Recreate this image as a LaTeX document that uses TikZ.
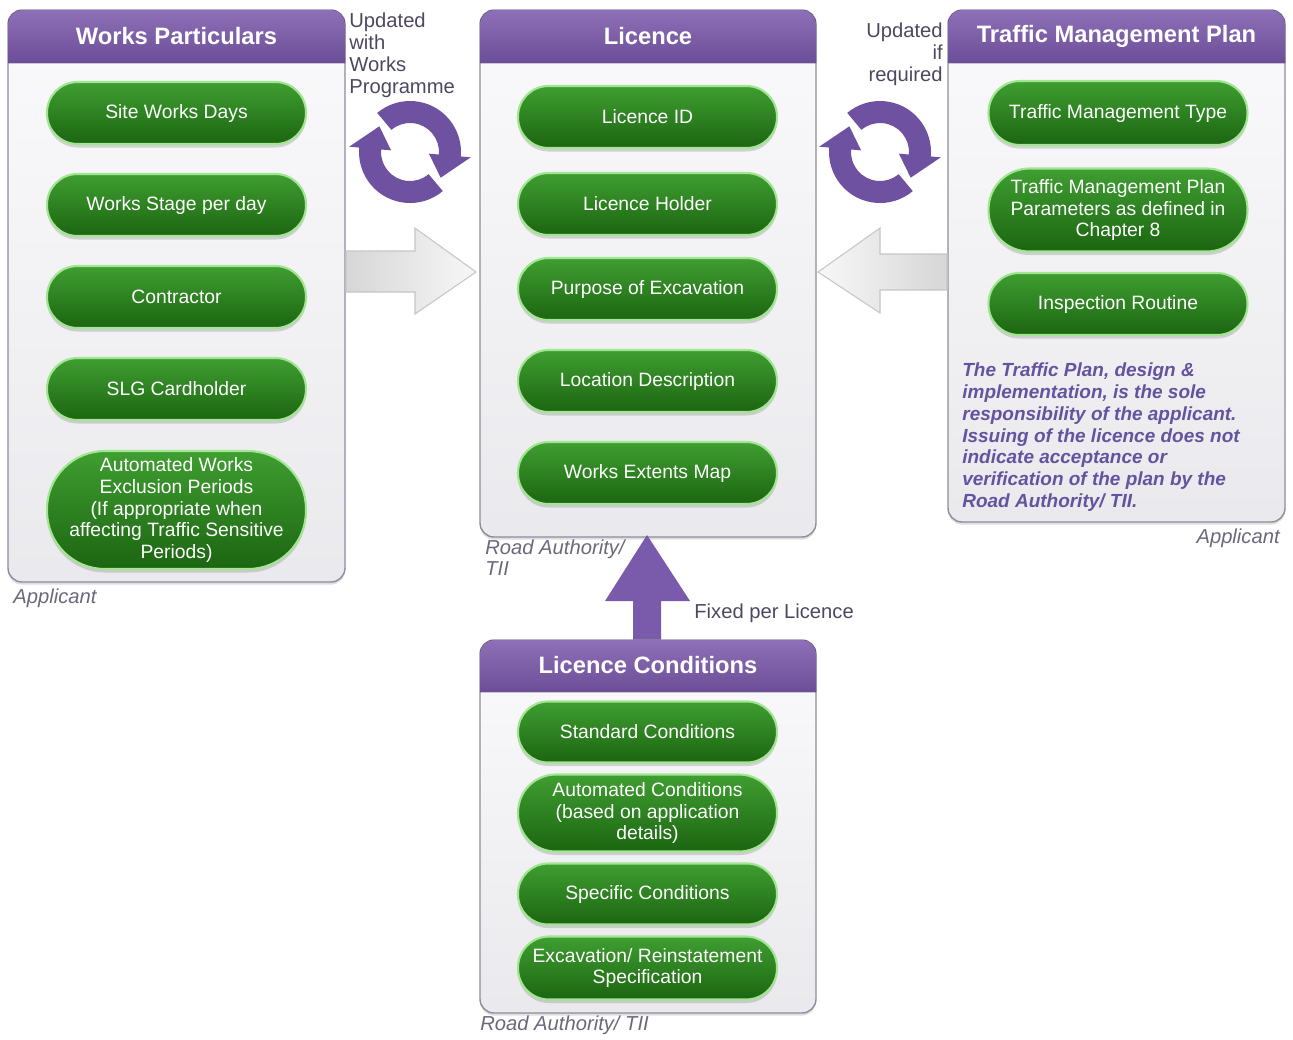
\documentclass[tikz,border=0pt]{standalone}
\usepackage{fontspec}
\setmainfont{Liberation Sans}
\usetikzlibrary{shadows}

\definecolor{headtop}{HTML}{8E70B8}
\definecolor{headbot}{HTML}{6C4E98}
\definecolor{cyclepurple}{HTML}{6E51A0}
\definecolor{uppurple}{HTML}{7A5AAA}
\definecolor{pilltop}{HTML}{3F9E31}
\definecolor{pillbot}{HTML}{1C6511}
\definecolor{pillrim}{HTML}{A2E592}
\definecolor{panelfill}{HTML}{F3F2F6}
\definecolor{panelrim}{HTML}{8F8C9D}
\definecolor{notegray}{HTML}{6C687C}
\definecolor{notepurple}{HTML}{6454A0}
\definecolor{sidegray}{HTML}{4E4760}

\begin{document}
\begin{tikzpicture}[x=0.02cm,y=-0.02cm,
    panelbody/.style={draw=panelrim, line width=0.8pt, rounded corners=8pt,
      top color=white!60!panelfill, bottom color=panelfill!92!gray,
      drop shadow={shadow xshift=0pt, shadow yshift=-1.5pt, opacity=0.25}},
    panelhead/.style={top color=headtop, bottom color=headbot},
    paneltitle/.style={text=white, font=\bfseries\fontsize{13.5}{15}\selectfont},
    pill/.style={rectangle, rounded corners=0.49*#1, minimum height=#1,
      draw=pillrim, line width=1.2pt,
      top color=pilltop, bottom color=pillbot, text=white, align=center,
      minimum width=5.18cm, inner sep=0pt,
      font=\fontsize{11}{12.4}\selectfont,
      drop shadow={shadow xshift=0pt, shadow yshift=-2pt, opacity=0.3}},
    pill/.default=1.24cm,
    sidetext/.style={inner sep=0pt, text=sidegray, font=\fontsize{11.5}{12.5}\selectfont},
    notetext/.style={inner sep=0pt, text=notegray, font=\itshape\fontsize{11.5}{12.5}\selectfont},
    cycle/.style={fill=cyclepurple},
    bigarrow/.style={draw=gray!45, line width=0.6pt}
  ]
  \useasboundingbox (0,0) rectangle (1293,1039);

  % panels
  \draw[panelbody] (8,10) rectangle (345,582);
  \fill[panelhead] (8,63) [rounded corners=8pt] -- (8,10) -- (345,10) [sharp corners] -- (345,63) -- cycle;
  \node[paneltitle] (wptitle) at (176.5,36) {Works Particulars};

  \draw[panelbody] (480,10) rectangle (816,537);
  \fill[panelhead] (480,63) [rounded corners=8pt] -- (480,10) -- (816,10) [sharp corners] -- (816,63) -- cycle;
  \node[paneltitle] (lictitle) at (648,36) {Licence};

  \draw[panelbody] (948,10) rectangle (1285,522);
  \fill[panelhead] (948,63) [rounded corners=8pt] -- (948,10) -- (1285,10) [sharp corners] -- (1285,63) -- cycle;
  \node[paneltitle] (tmptitle) at (1116.5,36) {Traffic Management Plan};

  \fill[uppurple] (633,641) -- (633,601) -- (605,601) -- (647,535) -- (690,601) -- (661,601) -- (661,641) -- cycle;

  \draw[panelbody] (480,640) rectangle (816,1013);
  \fill[panelhead] (480,692) [rounded corners=8pt] -- (480,640) -- (816,640) [sharp corners] -- (816,692) -- cycle;
  \node[paneltitle] (lctitle) at (648,665) {Licence Conditions};

  % works particulars
  \node[pill] (sitedays) at (176.5,113) {Site Works Days};
  \node[pill] (stage) at (176.5,205) {Works Stage per day};
  \node[pill] (contractor) at (176.5,297) {Contractor};
  \node[pill] (slg) at (176.5,389) {SLG Cardholder};
  \node[pill=2.36cm] (exclusion) at (176.5,510)
    {Automated Works\\Exclusion Periods\\(If appropriate when\\affecting Traffic Sensitive\\Periods)};

  % licence
  \node[pill] (licid) at (647.5,117) {Licence ID};
  \node[pill] (holder) at (647.5,204) {Licence Holder};
  \node[pill] (purpose) at (647.5,289) {Purpose of Excavation};
  \node[pill] (location) at (647.5,381) {Location Description};
  \node[pill] (extents) at (647.5,473) {Works Extents Map};

  % traffic management plan
  \node[pill=1.28cm] (tmtype) at (1118,113) {Traffic Management Type};
  \node[pill=1.66cm] (tmparams) at (1118,210)
    {Traffic Management Plan\\Parameters as defined in\\Chapter 8};
  \node[pill] (inspection) at (1118,304) {Inspection Routine};
  \node[inner sep=0pt, anchor=north west, align=left, text=notepurple,
    font=\bfseries\itshape\fontsize{10.8}{12.5}\selectfont] (tmpnote) at (962,362)
    {The Traffic Plan, design \&\\implementation, is the sole\\responsibility of the applicant.\\Issuing of the licence does not\\indicate acceptance or\\verification of the plan by the\\Road Authority/ TII.};

  % licence conditions
  \node[pill=1.22cm] (standard) at (647.5,732) {Standard Conditions};
  \node[pill=1.54cm] (autocond) at (647.5,813)
    {Automated Conditions\\(based on application\\details)};
  \node[pill=1.22cm] (specific) at (647.5,894) {Specific Conditions};
  \node[pill=1.26cm] (excspec) at (647.5,968)
    {Excavation/ Reinstatement\\Specification};

  % cycles
  \begin{scope}[shift={(410,152)}, x=0.02cm, y=0.02cm]
    \fill[cycle] (130:51) arc[start angle=130, end angle=-5, radius=51] -- (-5:61) -- (-40:40)
      -- (-5:19) -- (-5:29) arc[start angle=-5, end angle=130, radius=29] -- cycle;
    \fill[cycle] (-50:51) arc[start angle=-50, end angle=-185, radius=51] -- (175:61) -- (140:40)
      -- (175:19) -- (175:29) arc[start angle=175, end angle=310, radius=29] -- cycle;
  \end{scope}
  \begin{scope}[shift={(880,152)}, x=0.02cm, y=0.02cm]
    \fill[cycle] (130:51) arc[start angle=130, end angle=-5, radius=51] -- (-5:61) -- (-40:40)
      -- (-5:19) -- (-5:29) arc[start angle=-5, end angle=130, radius=29] -- cycle;
    \fill[cycle] (-50:51) arc[start angle=-50, end angle=-185, radius=51] -- (175:61) -- (140:40)
      -- (175:19) -- (175:29) arc[start angle=175, end angle=310, radius=29] -- cycle;
  \end{scope}

  % flow arrows
  \draw[bigarrow, left color=gray!32, right color=gray!6]
    (346,251) -- (415,251) -- (415,228) -- (476,272) -- (415,314) -- (415,292) -- (346,292) -- cycle;
  \draw[bigarrow, left color=gray!6, right color=gray!32]
    (947,254) -- (880,254) -- (880,228) -- (818,272) -- (880,313) -- (880,290) -- (947,290) -- cycle;

  % labels
  \node[sidetext, anchor=north west, align=left] (updworks) at (349,13) {Updated\\with\\Works\\Programme};
  \node[sidetext, anchor=north east, align=right] (updreq) at (943,23) {Updated\\if\\required};
  \node[sidetext, anchor=west] (fixed) at (694,613) {Fixed per Licence};
  \node[notetext, anchor=west] (wpowner) at (13,598) {Applicant};
  \node[notetext, anchor=east] (tmpowner) at (1280,538) {Applicant};
  \node[notetext, anchor=north west, align=left] (licowner) at (485,539) {Road Authority/\\TII};
  \node[notetext, anchor=west] (lcowner) at (480,1025) {Road Authority/ TII};
\end{tikzpicture}
\end{document}
